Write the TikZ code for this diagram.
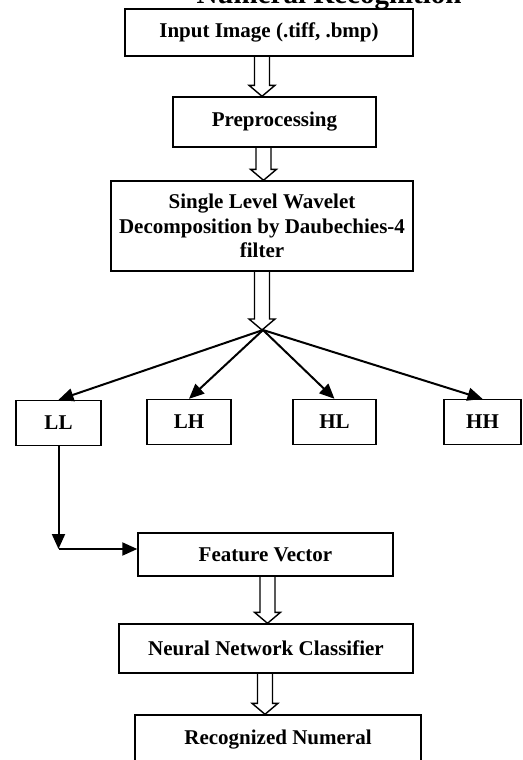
\documentclass[tikz,border=0pt]{standalone}
\usepackage{fontspec}
\setmainfont{Liberation Serif}
\usetikzlibrary{arrows.meta,calc}

\tikzset{
  box/.style={draw, line width=1.4pt, align=center, inner sep=0pt,
    font=\fontsize{21}{24.5}\selectfont\bfseries},
  fan/.style={line width=2pt, -{Triangle[length=15pt,width=13pt]}},
  hollowline/.style={line width=1.4pt, line join=miter}
}

% open double arrow, drawn below the x of #1 down to the y of #2
\newcommand{\hollowarrow}[2]{%
  \draw[hollowline] let \p1=(#1), \p2=(#2) in
    (\x1-7.5pt,\y1) -- (\x1-7.5pt,\y2+11pt) -- (\x1-13pt,\y2+11pt) -- (\x1,\y2)
    -- (\x1+13pt,\y2+11pt) -- (\x1+7.5pt,\y2+11pt) -- (\x1+7.5pt,\y1);}

\begin{document}
\begin{tikzpicture}[x=1pt,y=-1pt]
  \useasboundingbox (0,0) rectangle (522,760);

  \node[anchor=base west, font=\fontsize{29}{34}\selectfont\bfseries] (title) at (193,4) {Numeral Recognition};

  \node[box, minimum width=288, minimum height=47] (in) at (269,32.5) {Input Image (.tiff, .bmp)};
  \node[box, minimum width=203, minimum height=50] (pre) at (274.5,122) {Preprocessing};
  \node[box, minimum width=302, minimum height=90] (dwt) at (262,226)
    {Single Level Wavelet\\Decomposition by Daubechies-4\\filter};
  \coordinate (apex) at (263,330);

  \foreach \n/\x/\y/\w in {LL/58.5/423/85, LH/189/422/84, HL/334.5/422/83, HH/482.5/422/77}
  {
    \node[box, minimum width=\w, minimum height=45] (\n) at (\x,\y) {\n};
    \draw[fan] (apex) -- (\n.north);
  }

  \node[box, minimum width=255, minimum height=43] (fv) at (265.5,554.5) {Feature Vector};
  \node[box, minimum width=294, minimum height=49] (nn) at (266,648.5) {Neural Network Classifier};
  \node[box, minimum width=286, minimum height=50] (rec) at (278,740) {Recognized Numeral};

  \hollowarrow{[xshift=-7pt]in.south}{pre.north}
  \hollowarrow{[xshift=-11pt]pre.south}{dwt.north}
  \hollowarrow{dwt.south}{apex}
  \hollowarrow{[xshift=2pt]fv.south}{nn.north}
  \hollowarrow{[xshift=-1pt]nn.south}{rec.north}

  % LL band goes on to the features
  \coordinate (turn) at (58.5,549);
  \draw[fan] (LL.south) -- (turn);
  \draw[fan] (turn) -- (turn -| fv.west);
\end{tikzpicture}
\end{document}
